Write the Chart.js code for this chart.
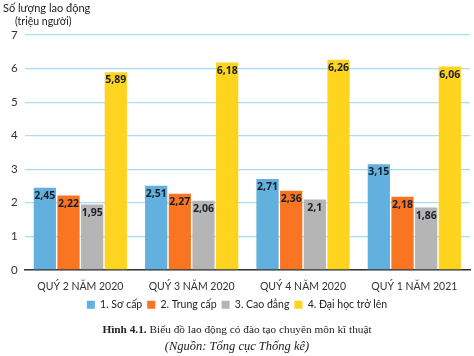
<!DOCTYPE html>
<html><head><meta charset="utf-8">
<script src="https://cdn.jsdelivr.net/npm/chart.js@4/dist/chart.umd.min.js"></script>
<style>
html,body{margin:0;padding:0;background:#fff;}
#wrap{position:relative;width:474px;height:356px;overflow:hidden;}
canvas{position:absolute;left:0;top:0;}
.t{position:absolute;white-space:nowrap;color:#222;line-height:14px;}
</style></head><body>
<div id="wrap">
<canvas id="c" width="474" height="356"></canvas>
<div class="t" style="left:3px;top:1px;font:11px Lato,sans-serif;line-height:14px;">Số lượng lao động</div>
<div class="t" style="left:15px;top:14px;font:10.5px Lato,sans-serif;line-height:14px;">(triệu người)</div>
<div class="t" style="left:0;width:474px;text-align:center;top:322px;font:11.3px 'Liberation Serif',serif;line-height:14px;"><b>Hình 4.1.</b> Biểu đồ lao động có đào tạo chuyên môn kĩ thuật</div>
<div class="t" style="left:0;width:474px;text-align:center;top:339px;font:italic 12.5px 'Liberation Serif',serif;line-height:15px;">(Nguồn: Tổng cục Thống kê)</div>
</div>
<script>
const categories = ["QUÝ 2 NĂM 2020","QUÝ 3 NĂM 2020","QUÝ 4 NĂM 2020","QUÝ 1 NĂM 2021"];
const seriesNames = ["1. Sơ cấp","2. Trung cấp","3. Cao đẳng","4. Đại học trở lên"];
const soCap = [2.45,2.51,2.71,3.15];
const trungCap = [2.22,2.27,2.36,2.18];
const caoDang = [1.95,2.06,2.1,1.86];
const daiHoc = [5.89,6.18,6.26,6.06];
const colors = ["#62b0de","#f97522","#b5b5b5","#fed41f"];
const yTicks = [0,1,2,3,4,5,6,7];

const labelPlugin = {
  id:'vals',
  afterDatasetsDraw(chart){
    const ctx = chart.ctx;
    ctx.save();
    ctx.font = "bold 10.5px 'Open Sans', sans-serif";
    ctx.fillStyle = "#1a1f2a";
    ctx.textAlign = "center";
    ctx.textBaseline = "top";
    chart.data.datasets.forEach((ds,i)=>{
      chart.getDatasetMeta(i).data.forEach((bar,j)=>{
        const v = ds.data[j];
        ctx.fillText(String(v).replace('.',','), bar.x, bar.y+3);
      });
    });
    ctx.restore();
  }
};

new Chart(document.getElementById('c'),{
  type:'bar',
  data:{
    labels:categories,
    datasets:[soCap,trungCap,caoDang,daiHoc].map((d,i)=>({
      label:seriesNames[i], data:d, backgroundColor:colors[i],
      barPercentage:0.94, categoryPercentage:0.85
    }))
  },
  options:{
    responsive:false, animation:false,
    layout:{padding:{top:35,left:4,right:4,bottom:36}},
    plugins:{
      tooltip:{enabled:false},
      legend:{position:'bottom',labels:{boxWidth:8,boxHeight:8,padding:5,color:'#222',font:{family:"Lato, sans-serif",size:10.5}}}
    },
    scales:{
      x:{grid:{display:false},border:{color:'#333',width:1.5},
         ticks:{color:'#333',padding:2,font:{family:"Lato, sans-serif",size:10.5}}},
      y:{min:0,max:7,afterBuildTicks(s){s.ticks=yTicks.map(v=>({value:v}));},
         grid:{color:'#a9dcf2',lineWidth:1.2,drawTicks:false},border:{display:false},
         ticks:{color:'#333',padding:7,font:{family:"Lato, sans-serif",size:11.5}}}
    }
  },
  plugins:[labelPlugin]
});
</script>
</body></html>
